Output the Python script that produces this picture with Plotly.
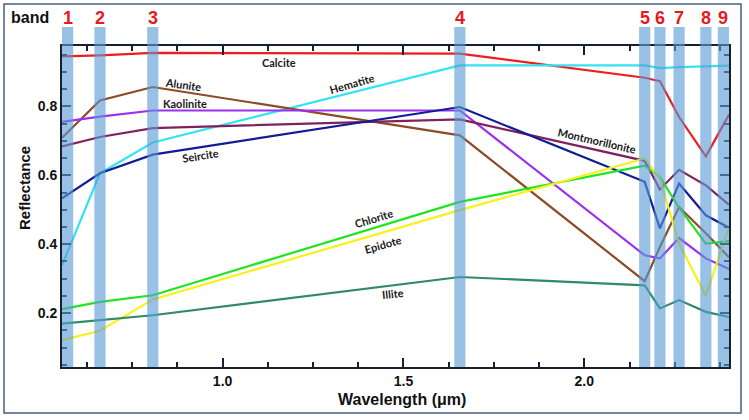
import plotly.graph_objects as go

# ---------------- data ----------------
band_names = ["1", "2", "3", "4", "5", "6", "7", "8", "9"]
band_wavelength = [0.556, 0.661, 0.807, 1.656, 2.167, 2.209, 2.262, 2.336, 2.400]

calcite = [0.945, 0.948, 0.955, 0.953, 0.883, 0.873, 0.769, 0.655, 0.776]
hematite = [0.339, 0.606, 0.695, 0.919, 0.919, 0.911, 0.914, 0.917, 0.918]
alunite = [0.709, 0.817, 0.856, 0.716, 0.293, 0.392, 0.508, 0.432, 0.362]
kaolinite = [0.755, 0.770, 0.788, 0.788, 0.368, 0.359, 0.418, 0.359, 0.328]
montmorillonite = [0.684, 0.711, 0.737, 0.762, 0.642, 0.559, 0.616, 0.571, 0.515]
seircite = [0.533, 0.606, 0.660, 0.798, 0.581, 0.446, 0.576, 0.484, 0.448]
chlorite = [0.212, 0.233, 0.252, 0.523, 0.628, 0.595, 0.506, 0.402, 0.409]
epidote = [0.122, 0.149, 0.240, 0.499, 0.649, 0.590, 0.402, 0.250, 0.450]
illite = [0.170, 0.180, 0.194, 0.305, 0.281, 0.214, 0.238, 0.204, 0.189]

x_tick_vals = [1.0, 1.5, 2.0]
x_tick_text = ["1.0", "1.5", "2.0"]
y_tick_vals = [0.2, 0.4, 0.6, 0.8]
y_tick_text = ["0.2", "0.4", "0.6", "0.8"]

# ---------------- styling ----------------
series = [
    ("Calcite", calcite, "#ee1c1c"),
    ("Hematite", hematite, "#33e3f2"),
    ("Alunite", alunite, "#8c4a26"),
    ("Kaolinite", kaolinite, "#9b30f0"),
    ("Montmorillonite", montmorillonite, "#80205f"),
    ("Seircite", seircite, "#121c96"),
    ("Chlorite", chlorite, "#1ee61e"),
    ("Epidote", epidote, "#f8f21a"),
    ("Illite", illite, "#2e8b62"),
]

# label placement (data coords) and rotation
label_pos = {
    "Calcite": (1.156, 0.926, 0),
    "Hematite": (1.358, 0.866, -16),
    "Alunite": (0.893, 0.864, 8),
    "Kaolinite": (0.895, 0.809, 0),
    "Seircite": (0.938, 0.658, -9),
    "Montmorillonite": (2.035, 0.702, 13),
    "Chlorite": (1.416, 0.475, -17),
    "Epidote": (1.443, 0.400, -16),
    "Illite": (1.471, 0.258, -6),
}

X_RANGE = [0.556, 2.400]
Y_RANGE = [0.044, 0.975]
L, R, T, B = 62, 20, 46, 53
W, H = 749, 420
PW, PH = W - L - R, H - T - B

def px_to_paper_x(px):
    return (px - L) / PW

def px_to_paper_y(py):
    return (H - B - py) / PH

def data_to_paper_x(x):
    return (x - X_RANGE[0]) / (X_RANGE[1] - X_RANGE[0])

fig = go.Figure()

for name, vals, color in series:
    fig.add_trace(go.Scatter(
        x=band_wavelength, y=vals, mode="lines", name=name,
        line=dict(color=color, width=2.2), showlegend=False,
        hoverinfo="x+y+name",
    ))

shapes = []
annotations = []

# outer frame
shapes.append(dict(
    type="rect", xref="paper", yref="paper",
    x0=px_to_paper_x(4), x1=px_to_paper_x(741),
    y0=px_to_paper_y(413), y1=px_to_paper_y(4),
    line=dict(color="#4a5d80", width=1.5), fillcolor="rgba(0,0,0,0)",
    layer="below",
))

# band bars
bar_w = 0.031
bar_top = px_to_paper_y(27)
for name, wl in zip(band_names, band_wavelength):
    x0 = wl - bar_w / 2
    x1 = wl + bar_w / 2
    if x0 < X_RANGE[0]:
        x0, x1 = X_RANGE[0], X_RANGE[0] + bar_w
    if x1 > X_RANGE[1]:
        x0, x1 = X_RANGE[1] - bar_w, X_RANGE[1]
    p0, p1 = data_to_paper_x(x0), data_to_paper_x(x1)
    shapes.append(dict(
        type="rect", xref="paper", yref="paper",
        x0=p0, x1=p1, y0=0, y1=bar_top,
        line=dict(width=0), fillcolor="rgba(91,155,213,0.62)",
        layer="above",
    ))
    annotations.append(dict(
        xref="paper", yref="paper", x=(p0 + p1) / 2, y=px_to_paper_y(18),
        text=name, showarrow=False,
        font=dict(family="Arial", size=18, color="#e8191c", weight="bold"),
        xanchor="center", yanchor="middle",
    ))

annotations.append(dict(
    xref="paper", yref="paper", x=px_to_paper_x(30), y=px_to_paper_y(18),
    text="band", showarrow=False,
    font=dict(family="Arial", size=16, color="#111111", weight="bold"),
    xanchor="center", yanchor="middle",
))

# axis titles
annotations.append(dict(
    xref="paper", yref="paper", x=px_to_paper_x(24), y=px_to_paper_y(188),
    text="Reflectance", showarrow=False, textangle=-90,
    font=dict(family="Arial", size=15, color="#111111", weight="bold"),
    xanchor="center", yanchor="middle",
))
annotations.append(dict(
    xref="paper", yref="paper", x=px_to_paper_x(402), y=px_to_paper_y(399),
    text="Wavelength (μm)", showarrow=False,
    font=dict(family="Arial", size=16, color="#111111", weight="bold"),
    xanchor="center", yanchor="middle",
))

# mineral labels
for name, vals, color in series:
    lx, ly, ang = label_pos[name]
    annotations.append(dict(
        x=lx, y=ly, xref="x", yref="y", text=name, showarrow=False,
        textangle=ang,
        font=dict(family="Lato", size=11, color="#1a1a1a", weight="bold"),
        xanchor="center", yanchor="middle",
    ))

axis_color = "#17202e"
fig.update_layout(
    width=W, height=H,
    margin=dict(l=L, r=R, t=T, b=B, pad=0),
    paper_bgcolor="white", plot_bgcolor="white",
    shapes=shapes, annotations=annotations,
    xaxis=dict(
        range=X_RANGE, tickvals=x_tick_vals, ticktext=x_tick_text,
        ticks="inside", ticklen=9, tickwidth=1.8, tickcolor=axis_color,
        minor=dict(dtick=0.125, tick0=0.5, ticks="inside", ticklen=5,
                   tickwidth=1.5, tickcolor=axis_color, showgrid=False),
        showline=True, linecolor=axis_color, linewidth=2, mirror="ticks",
        showgrid=False, zeroline=False,
        tickfont=dict(family="Arial", size=14, color="#111111", weight="bold"),
    ),
    yaxis=dict(
        range=Y_RANGE, tickvals=y_tick_vals, ticktext=y_tick_text,
        ticks="inside", ticklen=9, tickwidth=1.8, tickcolor=axis_color,
        minor=dict(dtick=0.05, tick0=0.0, ticks="inside", ticklen=5,
                   tickwidth=1.5, tickcolor=axis_color, showgrid=False),
        showline=True, linecolor=axis_color, linewidth=2, mirror="ticks",
        showgrid=False, zeroline=False,
        tickfont=dict(family="Arial", size=14, color="#111111", weight="bold"),
    ),
)

fig.write_html(
    "out.html",
    config={"displayModeBar": False},
    post_script="document.body.style.margin='0';document.body.style.overflow='hidden';",
)
